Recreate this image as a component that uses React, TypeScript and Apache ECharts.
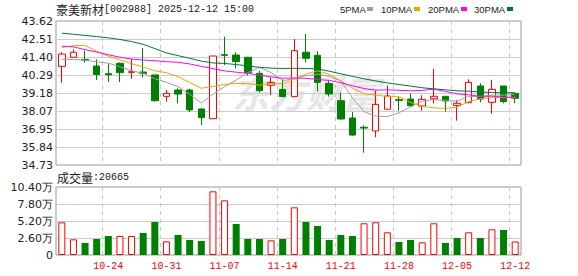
import React, { useEffect, useRef } from "react";
import * as echarts from "echarts";

const dates = [
  "10-20", "10-21", "10-22", "10-23", "10-24",
  "10-27", "10-28", "10-29", "10-30", "10-31",
  "11-03", "11-04", "11-05", "11-06", "11-07",
  "11-10", "11-11", "11-12", "11-13", "11-14",
  "11-17", "11-18", "11-19", "11-20", "11-21",
  "11-24", "11-25", "11-26", "11-27", "11-28",
  "12-01", "12-02", "12-03", "12-04", "12-05",
  "12-08", "12-09", "12-10", "12-11", "12-12",
];
const xTickLabels = ["10-24", "10-31", "11-07", "11-14", "11-21", "11-28", "12-05", "12-12"];

const opens = [
  40.82, 41.38, 41.25, 40.84, 40.37, 41.01, 40.45, 40.47, 40.29, 38.97,
  39.36, 39.36, 38.19, 37.59, 41.54, 41.52, 41.38, 40.39, 39.65, 39.40,
  38.95, 41.69, 41.50, 39.77, 38.70, 37.63, 37.06, 36.83, 38.17, 38.76,
  38.80, 38.37, 38.82, 38.97, 38.41, 38.58, 39.61, 38.60, 39.61, 39.15,
];
const closes = [
  41.58, 41.69, 41.21, 40.32, 40.30, 40.43, 40.49, 40.39, 38.70, 39.15,
  39.11, 38.13, 37.65, 41.46, 41.50, 41.11, 40.43, 39.32, 39.83, 38.95,
  41.79, 41.32, 39.83, 39.11, 37.57, 36.58, 37.01, 38.47, 38.99, 38.72,
  38.39, 38.78, 38.97, 38.68, 38.54, 39.83, 38.80, 39.40, 38.64, 38.85,
];
const lows = [
  39.81, 41.37, 41.05, 39.98, 39.85, 39.85, 40.06, 40.14, 38.64, 38.64,
  38.54, 38.00, 37.20, 37.59, 40.90, 40.70, 40.25, 39.20, 39.05, 38.91,
  38.91, 41.07, 39.26, 38.95, 37.55, 36.54, 35.49, 36.44, 38.17, 38.08,
  38.33, 38.08, 38.54, 38.02, 37.47, 38.54, 38.60, 37.90, 38.54, 38.54,
];
const highs = [
  41.69, 41.87, 41.79, 41.25, 40.99, 41.07, 41.29, 41.95, 40.29, 39.36,
  39.46, 39.44, 38.23, 41.46, 42.65, 41.69, 41.40, 40.55, 40.14, 40.02,
  42.51, 42.82, 41.75, 39.92, 39.20, 38.00, 37.18, 39.32, 39.65, 38.97,
  39.15, 39.03, 40.66, 38.97, 38.74, 40.02, 39.77, 39.98, 39.61, 39.15,
];
const volumes = [
  50000, 24000, 18400, 24500, 29100, 29100, 29100, 33700, 50500, 20900,
  30600, 23000, 21400, 97400, 83600, 47400, 24500, 24500, 22400, 24500,
  72900, 50500, 44400, 23000, 30600, 29100, 48500, 50000, 34700, 19900,
  23000, 19400, 48500, 18400, 26000, 34700, 26000, 39300, 38300, 20665,
];

const ma5 = [
  41.25, 41.24, 41.20, 41.10, 41.02, 40.79, 40.55, 40.39, 40.06, 39.83,
  39.57, 39.10, 38.55, 39.10, 39.57, 39.97, 40.43, 40.76, 40.44, 39.93,
  40.06, 40.24, 40.34, 40.20, 39.92, 38.88, 38.02, 37.75, 37.72, 37.95,
  38.32, 38.67, 38.77, 38.71, 38.67, 38.96, 38.96, 39.05, 39.04, 39.10,
];
const ma10 = [
  41.98, 42.10, 42.12, 41.75, 41.45, 41.22, 40.98, 40.78, 40.55, 40.43,
  40.18, 39.82, 39.47, 39.58, 39.70, 39.77, 39.76, 39.66, 39.77, 39.75,
  40.02, 40.34, 40.55, 40.32, 39.93, 39.47, 39.13, 39.05, 38.96, 38.94,
  38.60, 38.35, 38.26, 38.22, 38.31, 38.64, 38.82, 38.91, 38.88, 38.89,
];
const ma20 = [
  42.07, 42.02, 41.85, 41.70, 41.54, 41.38, 41.27, 41.21, 41.17, 41.11,
  41.07, 40.97, 40.82, 40.68, 40.54, 40.46, 40.39, 40.28, 40.17, 40.09,
  40.10, 40.08, 40.01, 39.95, 39.81, 39.62, 39.45, 39.35, 39.37, 39.34,
  39.31, 39.34, 39.41, 39.27, 39.12, 39.06, 38.97, 38.98, 38.92, 38.91,
];
const ma30 = [
  42.87, 42.80, 42.73, 42.66, 42.58, 42.48, 42.35, 42.18, 41.92, 41.65,
  41.48, 41.32, 41.14, 41.03, 41.00, 40.93, 40.85, 40.76, 40.71, 40.69,
  40.70, 40.69, 40.66, 40.52, 40.36, 40.20, 40.05, 39.92, 39.80, 39.70,
  39.60, 39.50, 39.43, 39.37, 39.31, 39.29, 39.24, 39.20, 39.20, 39.19,
];

const priceTicks = ["34.73", "35.84", "36.95", "38.07", "39.18", "40.29", "41.40", "42.51", "43.62"];
const volTicks = ["0", "2.60万", "5.20万", "7.80万", "10.40万"];
const volMax = 104000;

const maNames = ["5PMA", "10PMA", "20PMA", "30PMA"];
const maColors = ["#a0a0a0", "#f5a200", "#ff00ff", "#00773a"];

const UP = "#ff0000";
const DOWN = "#008000";

export default function App() {
  const ref = useRef<HTMLDivElement>(null);
  useEffect(() => {
    if (!ref.current) return;
    const chart = echarts.init(ref.current, null, { renderer: "svg" });

    const pMin = parseFloat(priceTicks[0]);
    const pMax = parseFloat(priceTicks[priceTicks.length - 1]);
    const pInt = (pMax - pMin) / (priceTicks.length - 1);
    const vInt = volMax / (volTicks.length - 1);

    const candles = dates.map((_, i) => [opens[i], closes[i], lows[i], highs[i]]);
    const volData = volumes.map((v, i) => {
      const prev = i === 0 ? opens[0] : closes[i - 1];
      const up = closes[i] >= prev;
      return {
        value: v,
        itemStyle: up
          ? { color: "#ffffff", borderColor: UP, borderWidth: 1 }
          : { color: DOWN, borderColor: DOWN, borderWidth: 0 },
      };
    });

    const showTick = (_i: number, v: string) => xTickLabels.indexOf(v) >= 0;
    const labelFont = "DejaVu Sans";

    const legendGraphics: any[] = [];
    const legendX = [340, 381, 428, 474];
    const legendW = [26, 32, 32, 32];
    maNames.forEach((n, i) => {
      legendGraphics.push({
        type: "text",
        x: legendX[i],
        y: 9,
        style: {
          text: n,
          font: "9.5px 'Liberation Sans'",
          fill: "#222",
          verticalAlign: "middle",
          align: "left",
        },
      });
      legendGraphics.push({
        type: "rect",
        shape: { x: legendX[i] + legendW[i] + 1, y: 7, width: 6, height: 4 },
        style: { fill: maColors[i] },
      });
    });

    const maSeries = [ma5, ma10, ma20, ma30].map((d, i) => ({
      name: maNames[i],
      type: "line",
      xAxisIndex: 0,
      yAxisIndex: 0,
      data: d,
      showSymbol: false,
      symbol: "none",
      smooth: false,
      lineStyle: { width: 1, color: maColors[i] },
      itemStyle: { color: maColors[i] },
      z: 3,
    }));

    chart.setOption({
      animation: false,
      backgroundColor: "#ffffff",
      graphic: [
        {
          type: "text",
          x: 232,
          y: 92,
          z: -10,
          style: {
            text: "东方财富",
            font: "italic bold 37px 'Noto Sans CJK SC'",
            fill: "#e6e6e6",
            verticalAlign: "middle",
          },
        },
        {
          type: "text",
          x: 56,
          y: 9,
          style: {
            text: "{c|豪美新材}{m|[002988] 2025-12-12 15:00}",
            verticalAlign: "middle",
            rich: {
              c: { fontFamily: "Noto Sans CJK SC", fontSize: 12, fill: "#222", color: "#222" },
              m: { fontFamily: "Liberation Mono", fontSize: 10, fill: "#222", color: "#222" },
            },
          },
        },
        {
          type: "text",
          x: 57,
          y: 177,
          style: {
            text: "{c|成交量}{m|:" + String(volumes[volumes.length - 1]) + "}",
            verticalAlign: "middle",
            rich: {
              c: { fontFamily: "Noto Sans CJK SC", fontSize: 12, fill: "#222", color: "#222" },
              m: { fontFamily: "Liberation Mono", fontSize: 10, fill: "#222", color: "#222" },
            },
          },
        },
        ...legendGraphics,
      ],
      grid: [
        { left: 56, top: 21, width: 465, height: 144, show: true, borderColor: "#999", borderWidth: 1, backgroundColor: "transparent" },
        { left: 56, top: 187, width: 465, height: 68, show: true, borderColor: "#999", borderWidth: 1, backgroundColor: "transparent" },
      ],
      xAxis: [
        {
          type: "category",
          gridIndex: 0,
          data: dates,
          boundaryGap: true,
          axisLine: { show: false },
          axisTick: { show: false },
          axisLabel: { show: false },
          splitLine: { show: true, interval: showTick, lineStyle: { type: [4, 4], color: "#c8c8c8", width: 1 } },
        },
        {
          type: "category",
          gridIndex: 1,
          data: dates,
          boundaryGap: true,
          axisLine: { show: false },
          axisTick: { show: false },
          axisLabel: {
            interval: showTick,
            color: UP,
            fontFamily: "Liberation Mono",
            fontSize: 10,
            margin: 6,
          },
          splitLine: { show: true, interval: showTick, lineStyle: { type: [4, 4], color: "#c8c8c8", width: 1 } },
        },
      ],
      yAxis: [
        {
          type: "value",
          gridIndex: 0,
          min: pMin,
          max: pMax,
          interval: pInt,
          axisLine: { show: false },
          axisTick: { show: false },
          axisLabel: {
            margin: 3,
            fontFamily: labelFont,
            fontSize: 11,
            color: "#222",
            formatter: (v: number) => priceTicks[Math.round((v - pMin) / pInt)] ?? "",
          },
          splitLine: { show: true, lineStyle: { color: "#cccccc", width: 1 } },
        },
        {
          type: "value",
          gridIndex: 1,
          min: 0,
          max: volMax,
          interval: vInt,
          axisLine: { show: false },
          axisTick: { show: false },
          axisLabel: {
            margin: 3,
            fontFamily: labelFont,
            fontSize: 11,
            color: "#222",
            formatter: (v: number) => volTicks[Math.round(v / vInt)] ?? "",
          },
          splitLine: { show: true, lineStyle: { color: "#cccccc", width: 1 } },
        },
      ],
      series: [
        {
          name: "K",
          type: "candlestick",
          xAxisIndex: 0,
          yAxisIndex: 0,
          data: candles,
          barWidth: 7,
          z: 2,
          itemStyle: {
            color: "#ffffff",
            color0: DOWN,
            borderColor: UP,
            borderColor0: DOWN,
            borderWidth: 1,
          },
        },
        ...maSeries,
        {
          name: "VOL",
          type: "bar",
          xAxisIndex: 1,
          yAxisIndex: 1,
          data: volData,
          barWidth: 7,
        },
      ],
    });

    return () => chart.dispose();
  }, []);

  return (
    <div
      ref={ref}
      style={{ position: "fixed", left: 0, top: 0, width: 578, height: 276 }}
    />
  );
}
